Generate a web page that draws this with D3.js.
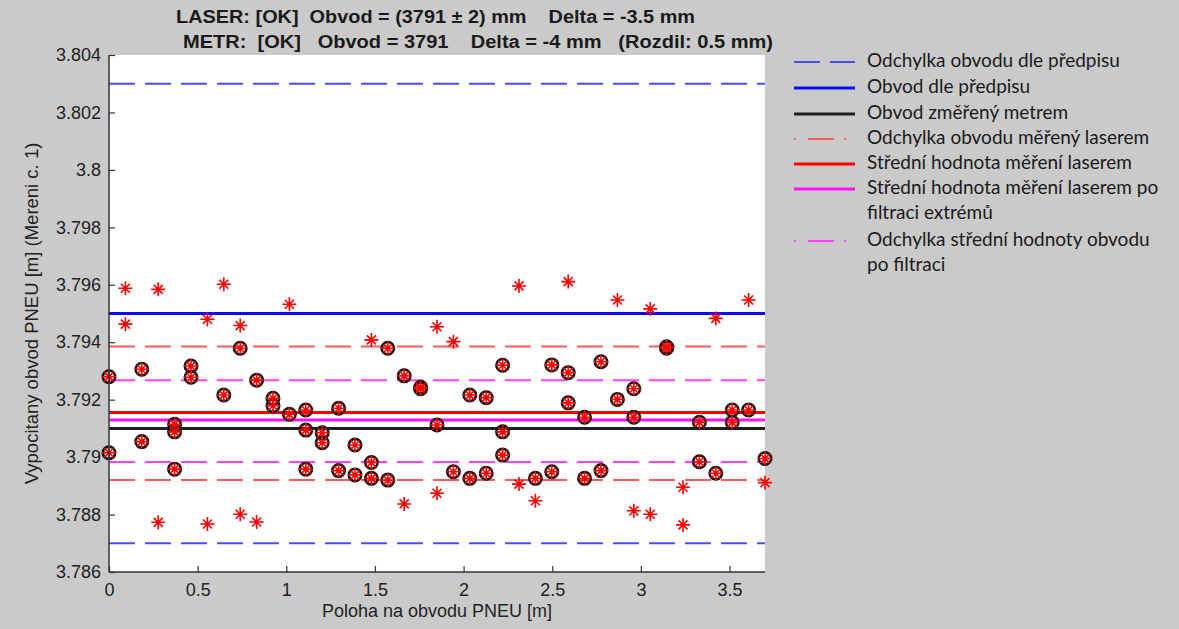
<!DOCTYPE html>
<html>
<head>
<meta charset="utf-8">
<script src="https://cdn.jsdelivr.net/npm/d3@7"></script>
<style>
  html, body { margin: 0; padding: 0; background: #cacaca; }
  svg { display: block; }
</style>
</head>
<body>
<svg id="chart" width="1179" height="629"></svg>
<script>
// Measurement positions along the tyre circumference [m] (step 3.7 / 40)
const step = 0.0925;

// Points kept after filtering of extremes (position index, circumference [m])
const keptIdx = [0, 0, 2, 2, 4, 4, 4, 5, 5, 7, 8, 9, 10, 10, 11, 12, 12, 12, 13, 13,
  14, 14, 15, 15, 16, 16, 17, 17, 18, 19, 19, 20, 21, 22, 22, 23, 23, 24, 24, 24,
  26, 27, 27, 28, 28, 29, 29, 30, 30, 31, 32, 32, 34, 34, 36, 36, 37, 38, 38, 39, 40];
const keptVal = [3.7928, 3.79015, 3.79306, 3.79054, 3.79114, 3.79088, 3.78958, 3.79317, 3.79278, 3.79216,
  3.79379, 3.79268, 3.79205, 3.79179, 3.79149, 3.79164, 3.79094, 3.78958, 3.79085, 3.7905,
  3.7917, 3.78953, 3.79042, 3.78938, 3.78981, 3.78926, 3.79379, 3.7892, 3.79283, 3.79243,
  3.79238, 3.79112, 3.78949, 3.79216, 3.78926, 3.79207, 3.78944, 3.7932, 3.79088, 3.79007,
  3.78926, 3.79321, 3.78949, 3.79294, 3.79189, 3.79139, 3.78926, 3.79332, 3.78953, 3.79201,
  3.79238, 3.79139, 3.79384, 3.79379, 3.79121, 3.78984, 3.78944, 3.79164, 3.79121, 3.79164, 3.78995];

// Extreme laser readings removed by the filter
const extremeIdx = [1, 1, 3, 3, 6, 6, 7, 8, 8, 9, 11, 16, 18, 20, 20, 21, 25, 25, 26, 28,
  31, 32, 33, 33, 35, 35, 37, 39, 40];
const extremeVal = [3.79588, 3.79463, 3.79584, 3.78773, 3.7948, 3.78767, 3.79602, 3.79458, 3.78801, 3.78774,
  3.79532, 3.79408, 3.78837, 3.79454, 3.78874, 3.79402, 3.79596, 3.78906, 3.78848, 3.79611,
  3.79547, 3.78813, 3.79516, 3.78801, 3.78895, 3.78764, 3.79483, 3.79547, 3.78911];

// Reference and summary levels [m]
const specNominal = 3.795;          // Obvod dle předpisu
const specBand = [3.787, 3.803];     // Odchylka obvodu dle předpisu
const tapeValue = 3.791;            // Obvod změřený metrem
const laserMean = 3.79155;          // Střední hodnota měření laserem
const laserBand = [3.7892, 3.79385]; // Odchylka obvodu měřený laserem
const filteredMean = 3.79129;       // po filtraci extrémů
const filteredBand = [3.78983, 3.79268];

const xTicks = [0, 0.5, 1, 1.5, 2, 2.5, 3, 3.5];
const yTicks = [3.786, 3.788, 3.79, 3.792, 3.794, 3.796, 3.798, 3.8, 3.802, 3.804];

const titleLines = [
  "LASER: [OK]  Obvod = (3791 ± 2) mm    Delta = -3.5 mm",
  "METR:  [OK]   Obvod = 3791    Delta = -4 mm   (Rozdil: 0.5 mm)"
];

const legendItems = [
  { label: ["Odchylka obvodu dle předpisu"], color: "#4a4aff", width: 2, dash: "26,10" },
  { label: ["Obvod dle předpisu"], color: "#0a0aff", width: 3, dash: null },
  { label: ["Obvod změřený metrem"], color: "#202020", width: 3, dash: null },
  { label: ["Odchylka obvodu měřený laserem"], color: "#ff5a5a", width: 2, dash: "2,12,26,10" },
  { label: ["Střední hodnota měření laserem"], color: "#ff0000", width: 3, dash: null },
  { label: ["Střední hodnota měření laserem po", "filtraci extrémů"], color: "#ff10ff", width: 3, dash: null },
  { label: ["Odchylka střední hodnoty obvodu", "po filtraci"], color: "#ff40ff", width: 2, dash: "2,12,26,10" }
];

const svg = d3.select("#chart");
const plot = { left: 109, top: 55, right: 765, bottom: 572 };

const x = d3.scaleLinear().domain([0, 3.7]).range([plot.left, plot.right]);
const y = d3.scaleLinear().domain([3.786, 3.804]).range([plot.bottom, plot.top]);

// white axes area
svg.append("rect")
  .attr("x", plot.left).attr("y", plot.top)
  .attr("width", plot.right - plot.left).attr("height", plot.bottom - plot.top)
  .attr("fill", "#ffffff");

const g = svg.append("g");

// horizontal reference lines
function hline(val, color, width, dash) {
  g.append("line")
    .attr("x1", x(0)).attr("x2", x(3.7))
    .attr("y1", y(val)).attr("y2", y(val))
    .attr("stroke", color).attr("stroke-width", width)
    .attr("stroke-dasharray", dash);
}
specBand.forEach(v => hline(v, "#4a4aff", 2, "26,10"));
hline(specNominal, "#0a0aff", 3, null);
laserBand.forEach(v => hline(v, "#ff5a5a", 2, "26,10"));
filteredBand.forEach(v => hline(v, "#ff40ff", 2, "26,10"));
hline(laserMean, "#ff0000", 3, null);
hline(filteredMean, "#ff10ff", 3, null);
hline(tapeValue, "#202020", 3, null);

// markers
const starPath = "M-7,0H7M0,-7V7M-4.5,-4.5L4.5,4.5M-4.5,4.5L4.5,-4.5";
const kept = keptIdx.map((i, k) => ({ pos: i * step, val: keptVal[k] }));
const extremes = extremeIdx.map((i, k) => ({ pos: i * step, val: extremeVal[k] }));

g.selectAll("circle.kept").data(kept).join("circle")
  .attr("class", "kept")
  .attr("cx", d => x(d.pos)).attr("cy", d => y(d.val))
  .attr("r", 6.2)
  .attr("fill", "none").attr("stroke", "#111").attr("stroke-width", 2.6);

g.selectAll("path.star").data(kept.concat(extremes)).join("path")
  .attr("class", "star")
  .attr("transform", d => `translate(${x(d.pos)},${y(d.val)})`)
  .attr("d", starPath)
  .attr("fill", "none").attr("stroke", "#ff0000").attr("stroke-width", 1.6);

// axes
const axisColor = "#333";
const yAxis = d3.axisLeft(y).tickValues(yTicks).tickSize(-6).tickPadding(8)
  .tickFormat(d => String(+d.toFixed(3)));
const xAxis = d3.axisBottom(x).tickValues(xTicks).tickSize(-6).tickPadding(9)
  .tickFormat(d => String(d));

const ya = svg.append("g").attr("transform", `translate(${plot.left},0)`).call(yAxis);
const xa = svg.append("g").attr("transform", `translate(0,${plot.bottom})`).call(xAxis);
[ya, xa].forEach(a => {
  a.select(".domain").attr("stroke", axisColor).attr("stroke-width", 1.5);
  a.selectAll(".tick line").attr("stroke", axisColor).attr("stroke-width", 1.2);
  a.selectAll(".tick text")
    .attr("fill", "#222")
    .style("font-family", "'Liberation Sans', Arial, sans-serif")
    .style("font-size", "18px");
});
ya.select(".domain").attr("d", `M0,${plot.top}V${plot.bottom}`);
xa.select(".domain").attr("d", `M${plot.left},0H${plot.right}`);
xa.selectAll(".tick text").attr("dy", "0.85em");

// axis labels
svg.append("text")
  .attr("transform", `translate(33,${(plot.top + plot.bottom) / 2}) rotate(-90)`)
  .attr("text-anchor", "middle").attr("dominant-baseline", "middle")
  .style("font-family", "'Liberation Sans', Arial, sans-serif").style("font-size", "18.5px")
  .attr("fill", "#222")
  .text("Vypocitany obvod PNEU [m] (Mereni c. 1)");

svg.append("text")
  .attr("x", (plot.left + plot.right) / 2).attr("y", 612)
  .attr("text-anchor", "middle").attr("dominant-baseline", "middle")
  .style("font-family", "'Liberation Sans', Arial, sans-serif").style("font-size", "18px")
  .attr("fill", "#222")
  .text("Poloha na obvodu PNEU [m]");

// title (two lines)
const titleX = [176, 183];
const titleLen = [519, 590];
titleLines.forEach((t, i) => {
  svg.append("text")
    .attr("x", titleX[i]).attr("y", 18 + i * 25)
    .attr("dominant-baseline", "middle")
    .attr("textLength", titleLen[i]).attr("lengthAdjust", "spacingAndGlyphs")
    .style("font-family", "'Liberation Sans', Arial, sans-serif")
    .style("font-size", "18px").style("font-weight", "bold")
    .style("white-space", "pre")
    .attr("fill", "#1a1a1a")
    .text(t);
});

// legend
const legendRowsY = [62, 88, 114, 139, 164, 189, 241];
const legend = svg.append("g");
legendItems.forEach((item, i) => {
  const ly = legendRowsY[i];
  legend.append("line")
    .attr("x1", 794).attr("x2", 855).attr("y1", ly).attr("y2", ly)
    .attr("stroke", item.color).attr("stroke-width", item.width)
    .attr("stroke-dasharray", item.dash);
  item.label.forEach((line, j) => {
    legend.append("text")
      .attr("x", 867).attr("y", ly + j * 25.5)
      .attr("dominant-baseline", "middle")
      .style("font-family", "Lato, 'Open Sans', sans-serif").style("font-size", "19px")
      .attr("fill", "#1a1a1a")
      .text(line);
  });
});
</script>
</body>
</html>
